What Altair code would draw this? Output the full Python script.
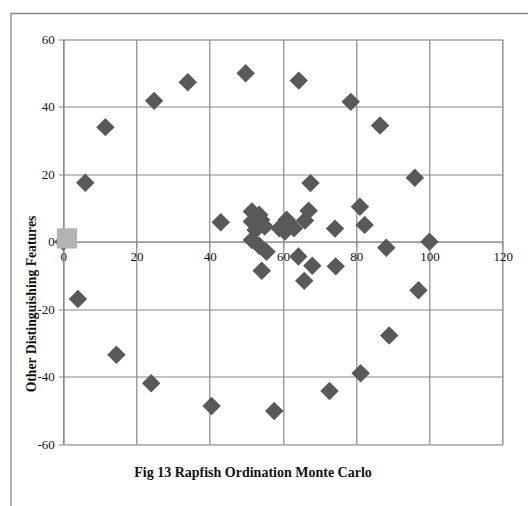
import altair as alt
import pandas as pd

# Monte Carlo points (diamonds)
mc_x = [0, 4, 6, 11.5, 14.5, 24.8, 24, 34, 40.5, 43, 49.8, 57.6, 64.3, 72.7, 78.5,
        81.2, 86.5, 89, 96, 97, 100, 88.2, 81, 82.3, 74.2, 74.4, 67.5, 68, 65.8,
        64.2, 54.2,
        51.5, 53.5, 51.5, 55, 52.5, 51.5, 53.5, 55.5, 61, 59, 63, 67, 66, 60.5, 54]
mc_y = [0, -17, 17.5, 34, -33.5, 41.8, -42, 47.3, -48.7, 5.8, 50, -50.2, 47.8, -44.3, 41.5,
        -39, 34.5, -27.8, 19, -14.4, 0, -1.8, 10.4, 5, 3.9, -7.3, 17.4, -7.1, -11.6,
        -4.4, -8.6,
        9, 8, 6, 4.5, 3.5, 0.5, -1.2, -3, 6.5, 4, 4, 9.2, 6.3, 3, 6.5]

# reference point (square)
ref_x = [1]
ref_y = [1]

x_ticks = [0, 20, 40, 60, 80, 100, 120]
y_ticks = [-60, -40, -20, 0, 20, 40, 60]

caption = ["Fig 13 Rapfish Ordination Monte Carlo"]

W, H = 439.4, 404.5
FONT = "Liberation Serif"
GRID = "#878787"

mc = pd.DataFrame({"x": mc_x, "y": mc_y})
ref = pd.DataFrame({"x": ref_x, "y": ref_y})

xs = alt.Scale(domain=[0, 120], nice=False, zero=False)
ys = alt.Scale(domain=[-60, 60], nice=False, zero=False)

x_axis = alt.Axis(values=x_ticks, title=None, offset=-H / 2, grid=True,
                  gridColor=GRID, gridWidth=1.2, domainColor=GRID, domainWidth=1.2,
                  tickColor=GRID, tickSize=5, labelPadding=4, labelFont=FONT,
                  labelFontSize=13, labelColor="#111111", labelFlush=False,
                  labelExpr="datum.value")
y_axis = alt.Axis(values=y_ticks, title="Other Distinguishing Features", grid=True,
                  gridColor=GRID, gridWidth=1.2, domainColor=GRID, domainWidth=1.2,
                  tickColor=GRID, tickSize=5, labelPadding=4, labelFont=FONT,
                  labelFontSize=13, labelColor="#111111", labelExpr="datum.value",
                  titleFont=FONT, titleFontSize=13.7, titleFontWeight="bold",
                  titleColor="#111111", titleAngle=270, titleX=-32, titleY=264,
                  titleAlign="center", titleBaseline="middle")

frame = alt.Chart(pd.DataFrame({"a": [0]})).mark_rect(
    fill=None, stroke=GRID, strokeWidth=1.3
).encode(x=alt.value(-52.3), x2=alt.value(700), y=alt.value(-26), y2=alt.value(700))

diamonds = alt.Chart(mc).mark_point(
    shape="diamond", filled=True, size=340, color="#595959", opacity=1
).encode(x=alt.X("x:Q", scale=xs, axis=x_axis), y=alt.Y("y:Q", scale=ys, axis=y_axis))

square = alt.Chart(ref).mark_point(
    shape="square", filled=True, size=410, color="#b3b3b3", opacity=1
).encode(x=alt.X("x:Q", scale=xs), y=alt.Y("y:Q", scale=ys))

title = alt.Chart(pd.DataFrame({"t": caption})).mark_text(
    font=FONT, fontSize=14, fontWeight="bold", color="#111111",
    align="center", baseline="middle"
).encode(text="t:N", x=alt.value(W / 2 - 30), y=alt.value(H + 28.5))

chart = alt.layer(frame, diamonds, square, title).properties(
    width=W, height=H,
    autosize=alt.AutoSizeParams(type="none"),
    padding={"left": 63.3, "top": 39.5, "right": 25.3, "bottom": 62},
).configure_view(stroke=GRID, strokeWidth=1.2).configure(background="white")

chart.save("out.html", embed_options={"renderer": "svg", "actions": False})
